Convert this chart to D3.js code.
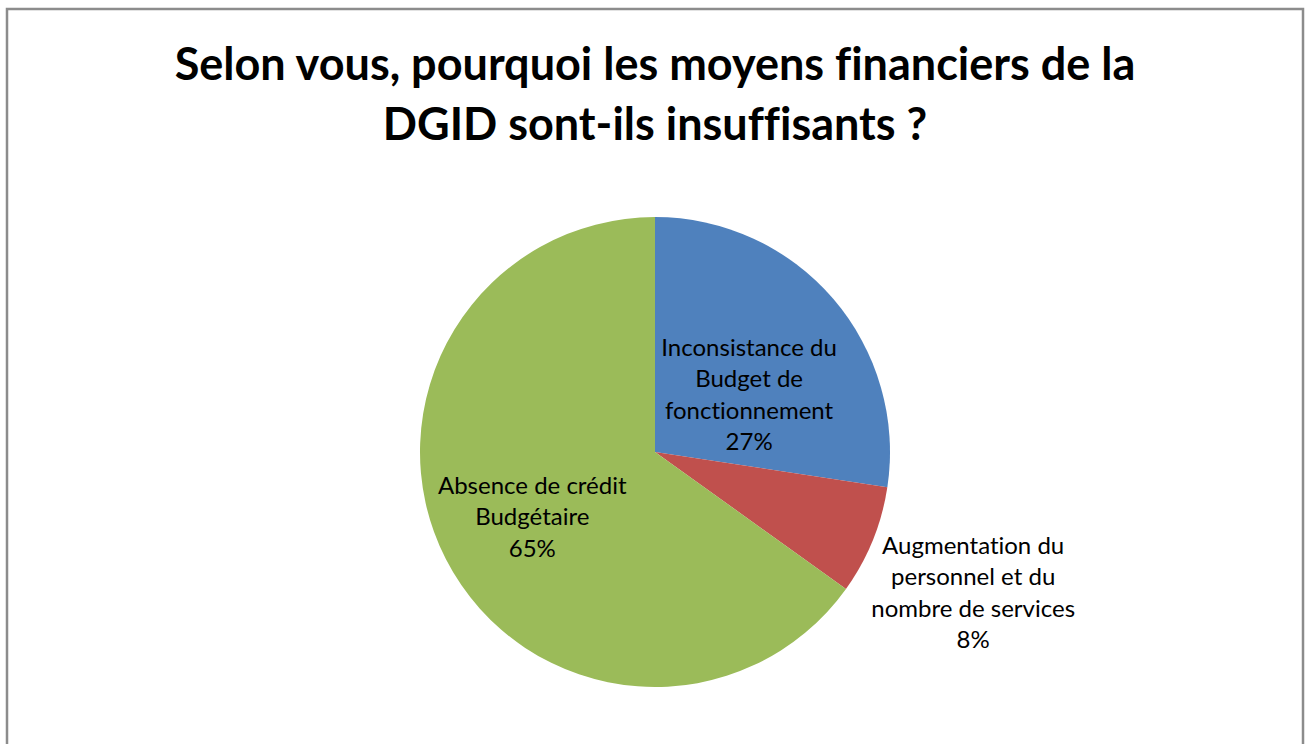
<!DOCTYPE html>
<html>
<head>
  <meta charset="utf-8">
  <style>
    body, html { margin: 0; padding: 0; background: #fff; }
    svg { display: block; font-family: Lato, "Open Sans", sans-serif; font-variant-ligatures: none; }
  </style>
</head>
<body>
  <svg id="svg" width="1309" height="744"></svg>
  <script src="https://d3js.org/d3.v7.min.js"></script>
  <script>
    const categories = ["Inconsistance du Budget de fonctionnement", "Augmentation du personnel et du nombre de services", "Absence de crédit Budgétaire"]
    const values = [27.4, 7.5, 65.1]
    const percentLabels = ["27%", "8%", "65%"]
    const labelLines = [
      ["Inconsistance du", "Budget de", "fonctionnement"],
      ["Augmentation du", "personnel et du", "nombre de services"],
      ["Absence de crédit", "Budgétaire"]
    ]
    const titleLines = ["Selon vous, pourquoi les moyens financiers de la", "DGID sont-ils insuffisants ?"]

    // layout: label anchor as polar offset (degrees clockwise from top, radius)
    const colors = ["#4f81bd", "#c0504d", "#9bbb59"]
    const labelPolar = [[58.8, 110], [113.9, 348], [242, 139]]

    const cx = 655, cy = 452, radius = 235
    const svg = d3.select("#svg")

    svg.append("rect")
      .attr("x", 7).attr("y", 9)
      .attr("width", 1296).attr("height", 760)
      .attr("fill", "none")
      .attr("stroke", "#8c8c8c")
      .attr("stroke-width", 2.5)

    svg.append("text")
      .attr("x", cx).attr("y", 80)
      .attr("text-anchor", "middle")
      .attr("font-size", 45)
      .attr("font-weight", "bold")
      .selectAll("tspan")
      .data(titleLines)
      .join("tspan")
      .attr("x", cx)
      .attr("dy", (d, i) => i === 0 ? 0 : 60)
      .text(d => d)

    const pie = d3.pie().sort(null).value(d => d)
    const arc = d3.arc().innerRadius(0).outerRadius(radius)
    const arcs = pie(values)

    const g = svg.append("g").attr("transform", `translate(${cx},${cy})`)
    g.selectAll("path")
      .data(arcs)
      .join("path")
      .attr("d", arc)
      .attr("fill", (d, i) => colors[i])

    const lineH = 31.5
    arcs.forEach((a, i) => {
      const [ang, r] = labelPolar[i]
      const rad = ang * Math.PI / 180
      const lx = r * Math.sin(rad)
      const ly = -r * Math.cos(rad)
      const lines = labelLines[i].concat([percentLabels[i]])
      const top = ly - (lines.length - 1) * lineH / 2
      const t = g.append("text")
        .attr("text-anchor", "middle")
        .attr("font-size", 24)
        .attr("fill", "#000")
      lines.forEach((s, k) => {
        t.append("tspan")
          .attr("x", lx)
          .attr("y", top + k * lineH + 8)
          .text(s)
      })
    })
  </script>
</body>
</html>
